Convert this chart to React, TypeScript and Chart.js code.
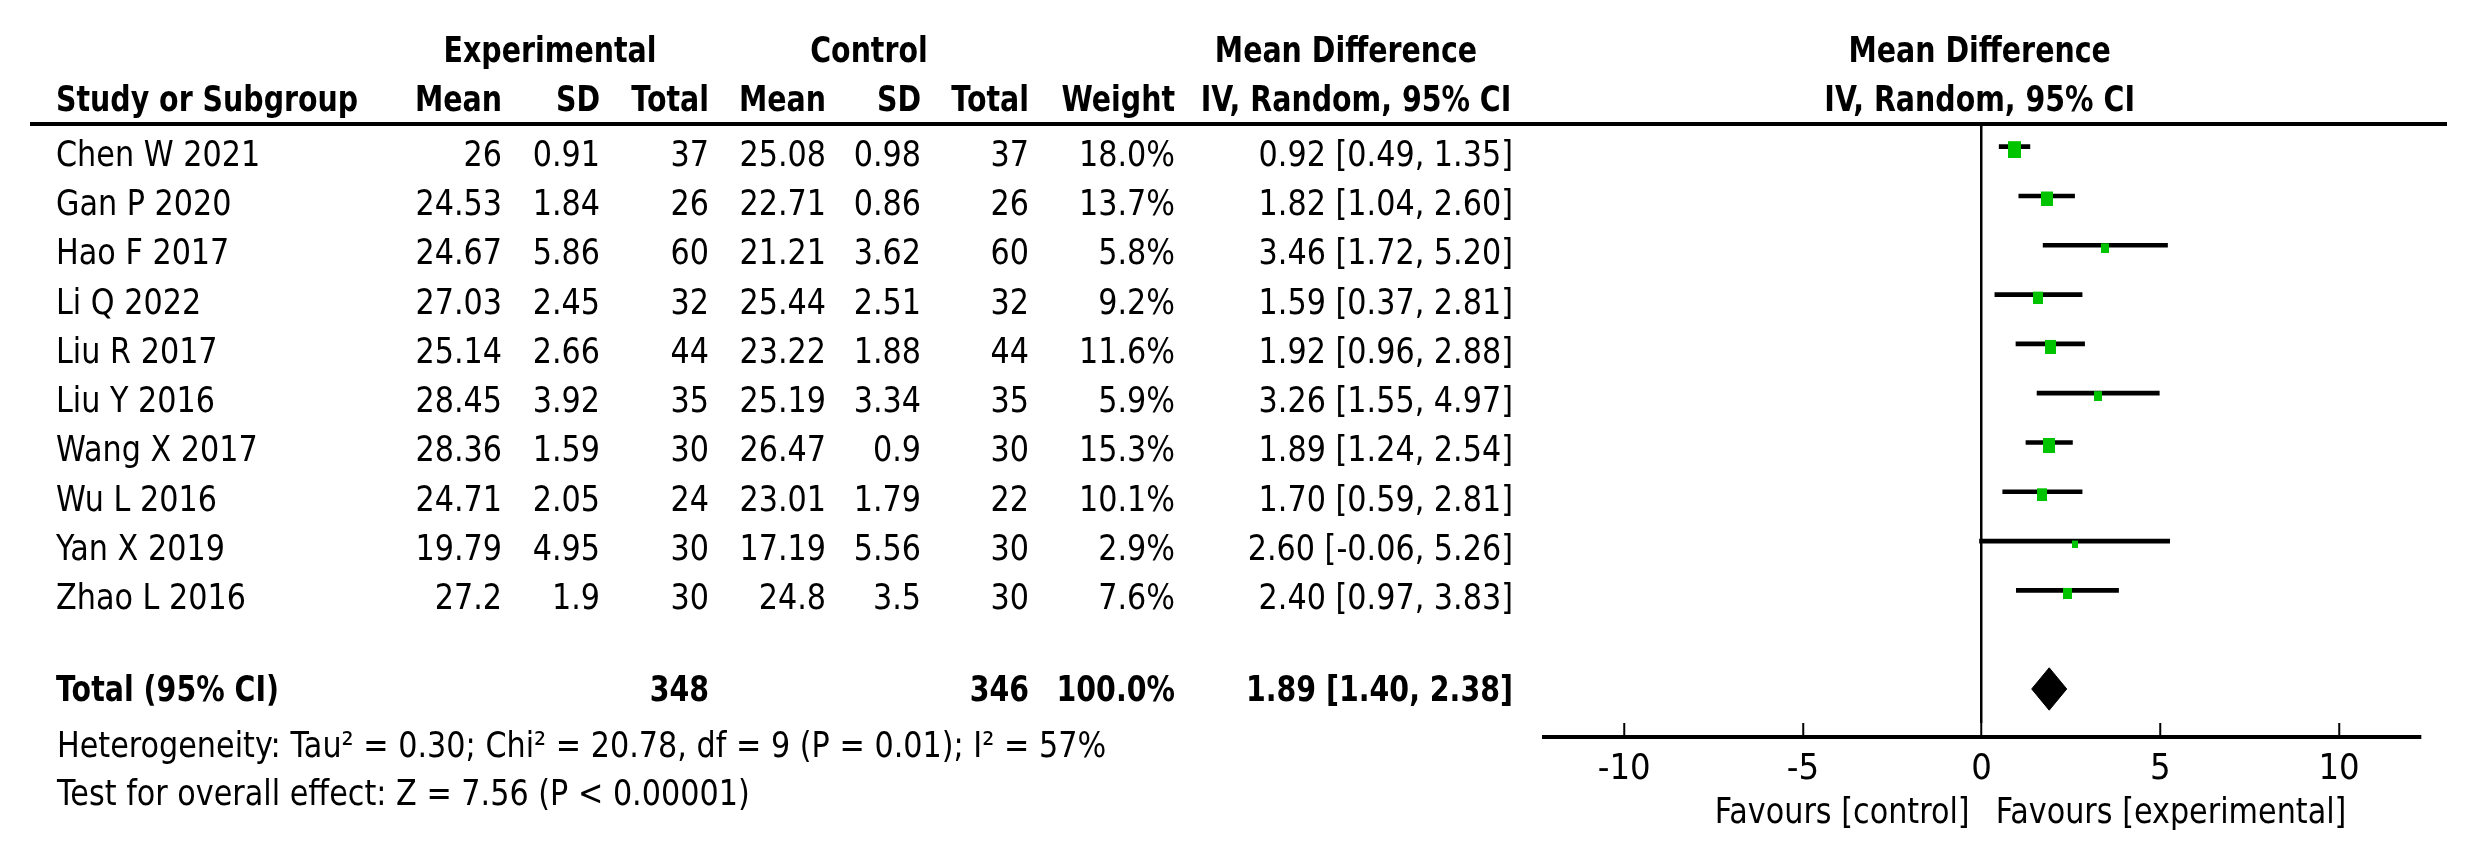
import React, { useEffect, useRef } from "react";
import { Chart, registerables } from "chart.js";

Chart.register(...registerables);

// ---------------- data ----------------
const STUDIES = [
  "Chen W 2021",
  "Gan P 2020",
  "Hao F 2017",
  "Li Q 2022",
  "Liu R 2017",
  "Liu Y 2016",
  "Wang X 2017",
  "Wu L 2016",
  "Yan X 2019",
  "Zhao L 2016",
];
const EXP_MEAN = [26, 24.53, 24.67, 27.03, 25.14, 28.45, 28.36, 24.71, 19.79, 27.2];
const EXP_SD = [0.91, 1.84, 5.86, 2.45, 2.66, 3.92, 1.59, 2.05, 4.95, 1.9];
const EXP_N = [37, 26, 60, 32, 44, 35, 30, 24, 30, 30];
const CTRL_MEAN = [25.08, 22.71, 21.21, 25.44, 23.22, 25.19, 26.47, 23.01, 17.19, 24.8];
const CTRL_SD = [0.98, 0.86, 3.62, 2.51, 1.88, 3.34, 0.9, 1.79, 5.56, 3.5];
const CTRL_N = [37, 26, 60, 32, 44, 35, 30, 22, 30, 30];
const WEIGHT = [18.0, 13.7, 5.8, 9.2, 11.6, 5.9, 15.3, 10.1, 2.9, 7.6];
const MD = [0.92, 1.82, 3.46, 1.59, 1.92, 3.26, 1.89, 1.7, 2.6, 2.4];
const CI_LO = [0.49, 1.04, 1.72, 0.37, 0.96, 1.55, 1.24, 0.59, -0.06, 0.97];
const CI_HI = [1.35, 2.6, 5.2, 2.81, 2.88, 4.97, 2.54, 2.81, 5.26, 3.83];

const TOTAL_LABEL = "Total (95% CI)";
const TOTAL_EXP_N = 348;
const TOTAL_CTRL_N = 346;
const TOTAL_WEIGHT = 100.0;
const TOTAL_MD = 1.89;
const TOTAL_LO = 1.4;
const TOTAL_HI = 2.38;
const TOTAL_ROW = 11;

const HETEROGENEITY = "Heterogeneity: Tau\u00b2 = 0.30; Chi\u00b2 = 20.78, df = 9 (P = 0.01); I\u00b2 = 57%";
const OVERALL = "Test for overall effect: Z = 7.56 (P < 0.00001)";

const GROUP_HEADERS = ["Experimental", "Control", "Mean Difference"];
const COL_HEADERS = ["Study or Subgroup", "Mean", "SD", "Total", "Mean", "SD", "Total", "Weight", "IV, Random, 95% CI"];
const PLOT_HEADERS = ["Mean Difference", "IV, Random, 95% CI"];

const X_TICKS = [-10, -5, 0, 5, 10];
const X_TICK_LABELS = ["-10", "-5", "0", "5", "10"];
const FAVOURS_LEFT = "Favours [control]";
const FAVOURS_RIGHT = "Favours [experimental]";

// ---------------- style ----------------
const W = 2488;
const H = 865;
const FONT = "'DejaVu Sans', 'Liberation Sans', sans-serif";
const FS = 36;
const SX_REG = 0.84;
const SX_BOLD = 0.79;
const GREEN = "#00c400";
const TICK_LEN = 14;
const X_MIN = -12.3;
const X_MAX = 12.3;
const Y_MIN = -0.46;
const Y_MAX = 11.69;
const DIAMOND_HALF = 0.43;

// right edges of the table columns
const COL_X = {
  study: 56,
  expMean: 502,
  expSD: 600,
  expN: 709,
  ctrlMean: 826,
  ctrlSD: 921,
  ctrlN: 1029,
  weight: 1175,
  ci: 1513,
};

function fmtCI(md: number, lo: number, hi: number) {
  return `${md.toFixed(2)} [${lo.toFixed(2)}, ${hi.toFixed(2)}]`;
}

function drawText(
  ctx: CanvasRenderingContext2D,
  s: string,
  x: number,
  y: number,
  align: CanvasTextAlign,
  bold: boolean
) {
  ctx.save();
  ctx.font = `${bold ? "bold " : ""}${FS}px ${FONT}`;
  ctx.fillStyle = "#000";
  ctx.textBaseline = "alphabetic";
  ctx.textAlign = align;
  ctx.translate(x, y);
  ctx.scale(bold ? SX_BOLD : SX_REG, 1);
  ctx.fillText(s, 0, 0);
  ctx.restore();
}

const forestTable = {
  id: "forestTable",
  beforeDraw(chart: any) {
    const { ctx } = chart;
    ctx.save();
    ctx.fillStyle = "#fff";
    ctx.fillRect(0, 0, chart.width, chart.height);
    ctx.restore();
  },
  afterDraw(chart: any) {
    const { ctx, chartArea, scales } = chart;
    const xs = scales.x;
    const ys = scales.y;
    const x0 = xs.getPixelForValue(0);

    ctx.save();
    ctx.fillStyle = "#000";
    // header rule
    ctx.fillRect(30, chartArea.top - 2, 2447 - 30, 4);
    // axis line
    const axY = chartArea.bottom + TICK_LEN;
    ctx.fillRect(xs.left, axY - 2, xs.right - xs.left, 4);
    ctx.restore();

    // group headers
    const h1 = 62;
    const h2 = 111;
    drawText(ctx, GROUP_HEADERS[0], 550, h1, "center", true);
    drawText(ctx, GROUP_HEADERS[1], 869, h1, "center", true);
    drawText(ctx, GROUP_HEADERS[2], 1346, h1, "center", true);
    drawText(ctx, PLOT_HEADERS[0], x0 - 2, h1, "center", true);

    // column headers
    drawText(ctx, COL_HEADERS[0], COL_X.study, h2, "left", true);
    drawText(ctx, COL_HEADERS[1], COL_X.expMean, h2, "right", true);
    drawText(ctx, COL_HEADERS[2], COL_X.expSD, h2, "right", true);
    drawText(ctx, COL_HEADERS[3], COL_X.expN, h2, "right", true);
    drawText(ctx, COL_HEADERS[4], COL_X.ctrlMean, h2, "right", true);
    drawText(ctx, COL_HEADERS[5], COL_X.ctrlSD, h2, "right", true);
    drawText(ctx, COL_HEADERS[6], COL_X.ctrlN, h2, "right", true);
    drawText(ctx, COL_HEADERS[7], COL_X.weight, h2, "right", true);
    drawText(ctx, COL_HEADERS[8], 1356, h2, "center", true);
    drawText(ctx, PLOT_HEADERS[1], x0 - 2, h2, "center", true);

    // study rows
    STUDIES.forEach((name, i) => {
      const y = ys.getPixelForValue(i) + 19;
      drawText(ctx, name, COL_X.study, y, "left", false);
      drawText(ctx, String(EXP_MEAN[i]), COL_X.expMean, y, "right", false);
      drawText(ctx, String(EXP_SD[i]), COL_X.expSD, y, "right", false);
      drawText(ctx, String(EXP_N[i]), COL_X.expN, y, "right", false);
      drawText(ctx, String(CTRL_MEAN[i]), COL_X.ctrlMean, y, "right", false);
      drawText(ctx, String(CTRL_SD[i]), COL_X.ctrlSD, y, "right", false);
      drawText(ctx, String(CTRL_N[i]), COL_X.ctrlN, y, "right", false);
      drawText(ctx, WEIGHT[i].toFixed(1) + "%", COL_X.weight, y, "right", false);
      drawText(ctx, fmtCI(MD[i], CI_LO[i], CI_HI[i]), COL_X.ci, y, "right", false);
    });

    // total row
    const ty = ys.getPixelForValue(TOTAL_ROW) + 12;
    drawText(ctx, TOTAL_LABEL, COL_X.study, ty, "left", true);
    drawText(ctx, String(TOTAL_EXP_N), COL_X.expN, ty, "right", true);
    drawText(ctx, String(TOTAL_CTRL_N), COL_X.ctrlN, ty, "right", true);
    drawText(ctx, TOTAL_WEIGHT.toFixed(1) + "%", COL_X.weight, ty, "right", true);
    drawText(ctx, fmtCI(TOTAL_MD, TOTAL_LO, TOTAL_HI), COL_X.ci, ty, "right", true);

    // footer
    drawText(ctx, HETEROGENEITY, 57, 757, "left", false);
    drawText(ctx, OVERALL, 57, 805, "left", false);

    // favours labels
    drawText(ctx, FAVOURS_LEFT, x0 - 12, 823, "right", false);
    drawText(ctx, FAVOURS_RIGHT, x0 + 14, 823, "left", false);
  },
};

function makeSquare(weight: number): HTMLCanvasElement {
  const s = Math.sqrt(weight);
  const w = Math.round(3.0 * s + 0.5);
  const h = Math.round(3.6 * s + 1.3);
  const shift = 3;
  const c = document.createElement("canvas");
  c.width = w;
  c.height = h + 2 * shift;
  const g = c.getContext("2d")!;
  g.fillStyle = GREEN;
  g.fillRect(0, 2 * shift, w, h);
  return c;
}

export default function App() {
  const canvasRef = useRef<HTMLCanvasElement | null>(null);

  useEffect(() => {
    if (!canvasRef.current) return;
    const squares = WEIGHT.map((wt) => makeSquare(wt));

    const chart = new Chart(canvasRef.current, {
      type: "scatter",
      data: {
        datasets: [
          {
            type: "scatter",
            label: "Study",
            data: STUDIES.map((_, i) => ({ x: MD[i], y: i })),
            pointStyle: squares as any,
            pointRadius: 8,
            pointHoverRadius: 8,
            showLine: false,
            order: 0,
          } as any,
          {
            type: "bar",
            label: "CI",
            indexAxis: "y",
            data: STUDIES.map((_, i) => ({ x: [CI_LO[i], CI_HI[i]], y: i })),
            backgroundColor: "#000",
            borderWidth: 0,
            barThickness: 4,
            order: 1,
          } as any,
          {
            type: "scatter",
            label: "Total",
            data: [
              { x: TOTAL_LO, y: TOTAL_ROW },
              { x: TOTAL_MD, y: TOTAL_ROW - DIAMOND_HALF },
              { x: TOTAL_HI, y: TOTAL_ROW },
              { x: TOTAL_MD, y: TOTAL_ROW + DIAMOND_HALF },
              { x: TOTAL_LO, y: TOTAL_ROW },
            ],
            showLine: true,
            fill: "shape",
            backgroundColor: "#000",
            borderColor: "#000",
            borderWidth: 1,
            pointRadius: 0,
            tension: 0,
            order: 2,
          } as any,
        ],
      },
      options: {
        animation: false,
        responsive: true,
        maintainAspectRatio: false,
        events: [],
        layout: {
          padding: { left: 1542, right: 66.7, top: 124, bottom: 62 },
        },
        plugins: {
          legend: { display: false },
          tooltip: { enabled: false },
          title: { display: false },
        },
        scales: {
          x: {
            type: "linear",
            min: X_MIN,
            max: X_MAX,
            offset: false,
            beginAtZero: false,
            afterBuildTicks: (s: any) => {
              s.ticks = X_TICKS.map((v) => ({ value: v }));
            },
            afterFit: (s: any) => {
              s.height = 80;
            },
            ticks: {
              callback: (v: any) => X_TICK_LABELS[X_TICKS.indexOf(Number(v))] ?? "",
              font: { family: "'DejaVu Sans Condensed', 'DejaVu Sans', sans-serif", size: 36 },
              color: "#000",
              padding: 11,
              maxRotation: 0,
              autoSkip: false,
            },
            grid: {
              offset: false,
              color: (c: any) => (c.tick && c.tick.value === 0 ? "#000" : "rgba(0,0,0,0)"),
              lineWidth: 2.5,
              tickColor: "#000",
              tickWidth: 2,
              tickLength: TICK_LEN,
              drawTicks: true,
            },
            border: { display: false },
          },
          y: {
            type: "linear",
            min: Y_MIN,
            max: Y_MAX,
            reverse: true,
            offset: false,
            grid: { offset: false },
            display: false,
          },
        },
      } as any,
      plugins: [forestTable],
    });

    return () => {
      chart.destroy();
    };
  }, []);

  return (
    <div
      style={{
        position: "fixed",
        left: 0,
        top: 0,
        width: W,
        height: H,
        background: "#fff",
      }}
    >
      <canvas ref={canvasRef} style={{ width: W, height: H, display: "block" }} />
    </div>
  );
}
